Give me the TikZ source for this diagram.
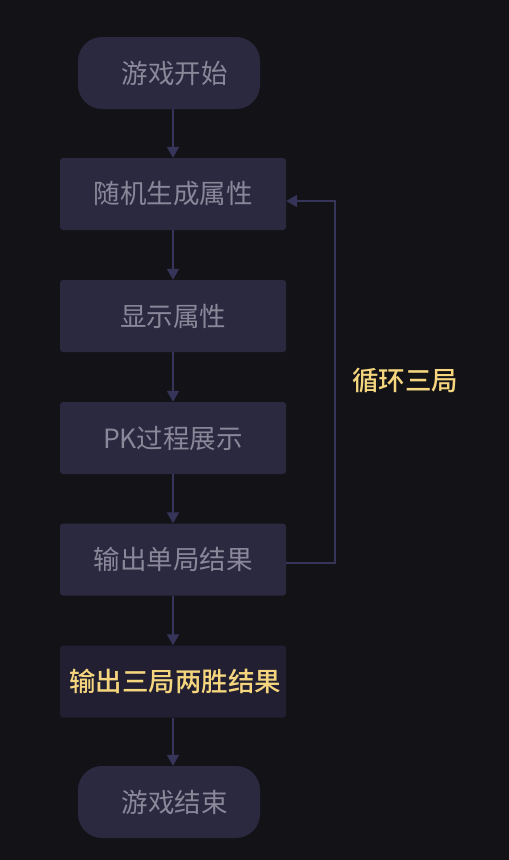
\documentclass[tikz,border=0pt]{standalone}
\usepackage{fontspec}
\setmainfont{Noto Sans CJK SC}
\newfontfamily\cjkmedium[UprightFont={* Medium}]{Noto Sans CJK SC}
\usetikzlibrary{arrows.meta}
\definecolor{bgcol}{HTML}{131217}
\definecolor{boxcol}{HTML}{2B2940}
\definecolor{boxdark}{HTML}{211F31}
\definecolor{txtgray}{HTML}{8A8799}
\definecolor{txtgold}{HTML}{F5D67E}
\definecolor{linecol}{HTML}{37345A}
\tikzset{
  x=1pt, y=-1pt,
  flowbox/.style={fill=boxcol, rounded corners=3pt, minimum width=226pt, minimum height=72pt,
    inner sep=0pt, text=txtgray, font=\fontsize{26.5}{30}\selectfont},
  termbox/.style={flowbox, minimum width=182pt, rounded corners=24pt},
  resultbox/.style={flowbox, fill=boxdark, text=txtgold, font=\fontsize{26.5}{30}\cjkmedium},
  flowline/.style={draw=linecol, line width=2pt, -{Triangle[width=12pt,length=11pt]}},
}
\begin{document}
\begin{tikzpicture}
\fill[bgcol] (0,0) rectangle (509,860);
\useasboundingbox (0,0) rectangle (509,860);

\node[termbox] (start) at (169,73) {\hspace*{11pt}游戏开始};
\node[flowbox] (gen) at (173,194) {随机生成属性};
\node[flowbox] (show) at (173,316) {显示属性};
\node[flowbox] (pk) at (173,438) {PK过程展示};
\node[flowbox] (round) at (173,559.5) {输出单局结果};
\node[resultbox] (final) at (173,681.5) {\hspace*{4pt}输出三局两胜结果};
\node[termbox] (stop) at (169,802) {\hspace*{11pt}游戏结束};

\coordinate (loopbot) at (335,563);
\coordinate (looptop) at (335,201);

\draw[flowline] (start.south -| gen.north) -- (gen.north);
\draw[flowline] (gen) -- (show);
\draw[flowline] (show) -- (pk);
\draw[flowline] (pk) -- (round);
\draw[flowline] (round) -- (final);
\draw[flowline] (final.south) -- (stop.north -| final.south);

\draw[flowline] (round.east |- loopbot) -- (loopbot) -- (looptop) -- (gen.east |- looptop);

\node[text=txtgold, font=\fontsize{26.5}{30}\cjkmedium] (looplabel) at (405,381) {循环三局};
\end{tikzpicture}
\end{document}
